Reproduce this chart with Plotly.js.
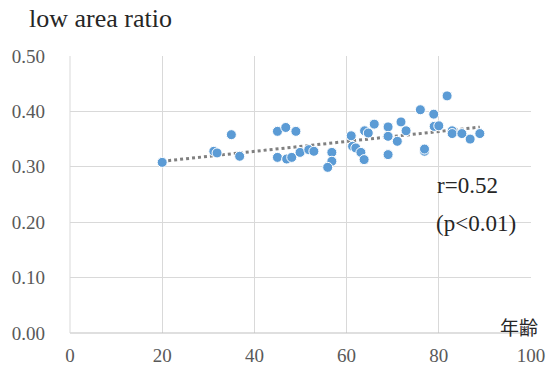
<!DOCTYPE html>
<html><head><meta charset="utf-8">
<script src="https://cdn.plot.ly/plotly-3.0.1.min.js"></script>
<style>body{margin:0;background:#fff}#c{width:554px;height:374px}</style>
</head><body><div id="c"></div>
<script>
const age = [20.0,31.2,31.9,35.0,36.8,45.0,46.8,49.0,45.0,47.0,48.1,49.9,51.8,52.9,56.8,56.8,55.9,61.0,61.3,62.0,63.1,63.8,63.9,64.7,66.0,69.0,69.0,69.0,71.0,71.8,72.9,76.0,76.9,76.9,78.9,79.0,80.0,81.8,82.9,82.9,85.0,86.8,88.9];
const ratio = [0.308,0.328,0.325,0.358,0.319,0.364,0.371,0.364,0.317,0.314,0.317,0.326,0.331,0.328,0.326,0.310,0.299,0.356,0.337,0.334,0.326,0.313,0.365,0.361,0.377,0.372,0.355,0.322,0.346,0.381,0.365,0.403,0.328,0.332,0.395,0.373,0.374,0.428,0.365,0.360,0.360,0.350,0.360];
const xTicks = [0,20,40,60,80,100];
const yTicks = [0,0.1,0.2,0.3,0.4,0.5];
const yTickText = ['0.00','0.10','0.20','0.30','0.40','0.50'];

// least squares trendline computed from the data
const n = age.length;
const mx = age.reduce((a,b)=>a+b,0)/n, my = ratio.reduce((a,b)=>a+b,0)/n;
let sxy=0, sxx=0;
for (let i=0;i<n;i++){ sxy+=(age[i]-mx)*(ratio[i]-my); sxx+=(age[i]-mx)**2; }
const slope = sxy/sxx, icpt = my - slope*mx;
const xmin = Math.min(...age), xmax = Math.max(...age);
const trendX = [xmin, xmax], trendY = trendX.map(v=>icpt+slope*v);

const font = 'Liberation Serif';
const data = [
  {x: trendX, y: trendY, mode:'lines', line:{color:'#808080', width:3, dash:'dot'}, hoverinfo:'skip'},
  {x: age, y: ratio, mode:'markers', marker:{color:'#5b9bd5', size:10, line:{color:'#ffffff', width:1}}}
];
const layout = {
  width:554, height:374, showlegend:false,
  paper_bgcolor:'#fff', plot_bgcolor:'#fff',
  margin:{l:70, r:23, t:56, b:41},
  font:{family:font},
  title:{text:'low area ratio', font:{family:font, size:26, color:'#262626'}, x:29/554, xref:'container', xanchor:'left', y:1-18/374, yref:'container', yanchor:'middle'},
  xaxis:{range:[0,100], tickvals:xTicks, showgrid:true, gridcolor:'#d9d9d9', gridwidth:1, zeroline:false, showline:false,
         tickfont:{family:font, size:19, color:'#595959'}, ticks:'', ticklabelstandoff:9, fixedrange:true},
  yaxis:{range:[0,0.5], tickvals:yTicks, ticktext:yTickText, showgrid:true, gridcolor:'#d9d9d9', gridwidth:1, zeroline:false, showline:false,
         tickfont:{family:font, size:19, color:'#595959'}, ticks:'', ticklabelstandoff:24, fixedrange:true},
  shapes:[
    {type:'line', xref:'paper', yref:'paper', x0:0, x1:1, y0:0, y1:0, line:{color:'#bfbfbf', width:1}},
    {type:'line', xref:'paper', yref:'paper', x0:0, x1:0, y0:0, y1:1, line:{color:'#d9d9d9', width:1}}
  ],
  annotations:[
    {text:'r=0.52', xref:'paper', yref:'paper', x:(435-70)/461, y:(333-185)/277, xanchor:'left', yanchor:'middle', showarrow:false, font:{family:font, size:23, color:'#262626'}},
    {text:'(p<0.01)', xref:'paper', yref:'paper', x:(434-70)/461, y:(333-223)/277, xanchor:'left', yanchor:'middle', showarrow:false, font:{family:font, size:23, color:'#262626'}},
    {text:'年齢', xref:'paper', yref:'paper', x:(498-70)/461, y:(333-326)/277, xanchor:'left', yanchor:'middle', showarrow:false, font:{family:'Noto Sans CJK JP', size:19, color:'#262626'}}
  ]
};
Plotly.newPlot('c', data, layout, {displayModeBar:false, staticPlot:true});
</script></body></html>
